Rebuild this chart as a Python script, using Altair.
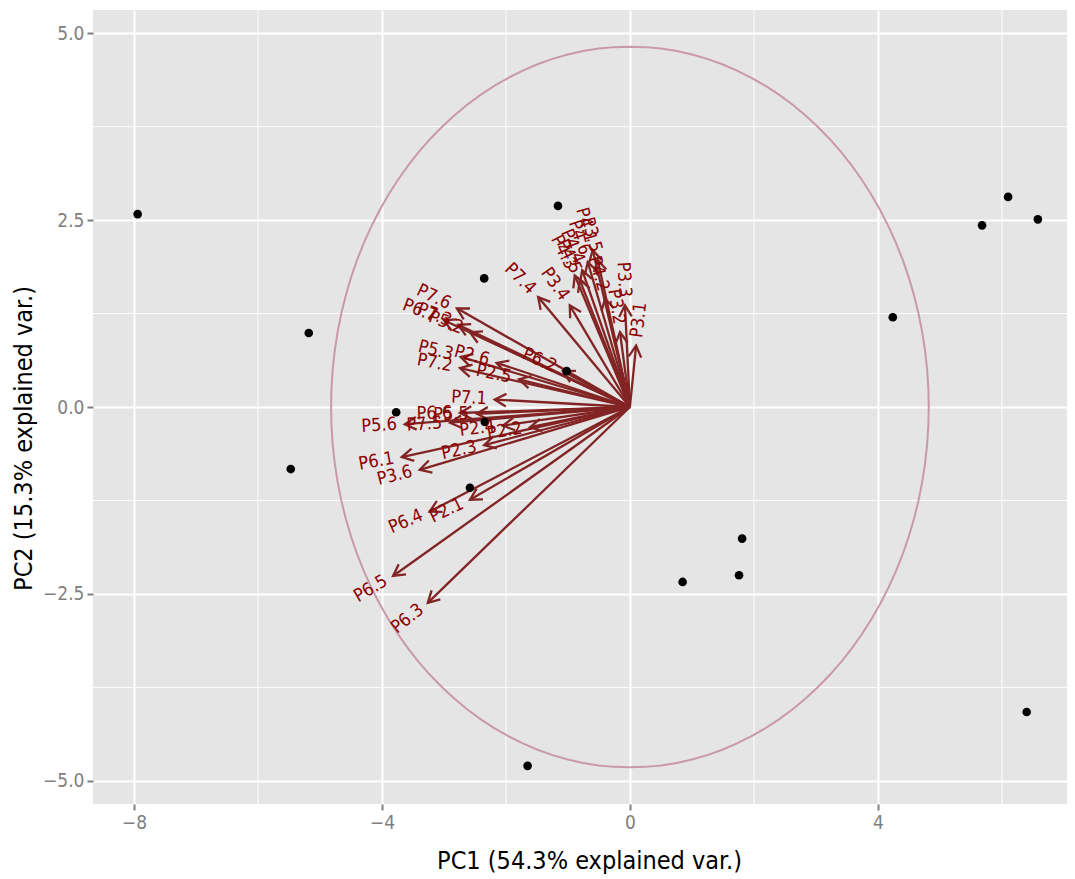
import altair as alt
import pandas as pd

# ---- data ----
pc1 = [-7.94, -5.18, -5.47, -3.77, -2.35, -2.34, -2.58, -1.16, -1.02, -1.65,
       0.85, 1.76, 1.81, 4.24, 5.68, 6.10, 6.58, 6.40]
pc2 = [2.58, 0.99, -0.83, -0.07, 1.72, -0.20, -1.08, 2.69, 0.48, -4.80,
       -2.34, -2.25, -1.76, 1.20, 2.43, 2.81, 2.51, -4.08]

var_names = ["P6.3", "P6.5", "P6.4", "P2.1", "P6.1", "P3.6", "P2.3", "P5.6", "P7.5",
             "P6.6", "P5.5", "P2.4", "P2.2", "P7.1", "P7.2", "P5.3", "P2.6", "P2.5",
             "P6.2", "P7.6", "P6.7", "P7.3", "P5.2", "P7.4", "P3.4", "P4.1", "P3.5",
             "P4.6", "P4.3", "P4.4", "P4.5", "P4.2", "P3.3", "P3.2", "P3.1"]
var_x = [-3.26, -3.82, -3.23, -2.58, -3.68, -3.39, -2.35, -3.63, -2.90,
         -2.74, -2.47, -2.05, -1.61, -2.18, -2.74, -2.73, -2.15, -1.79,
         -1.08, -2.79, -3.00, -2.77, -2.58, -1.48, -0.97, -0.60, -0.52,
         -0.68, -0.89, -0.77, -0.81, -0.40, -0.08, -0.16, 0.10]
var_y = [-2.62, -2.26, -1.40, -1.24, -0.67, -0.84, -0.51, -0.23, -0.21,
         -0.08, -0.09, -0.25, -0.27, 0.10, 0.52, 0.67, 0.59, 0.37,
         0.48, 1.32, 1.16, 1.10, 1.00, 1.47, 1.36, 2.10, 1.97,
         1.94, 1.76, 1.83, 1.70, 1.45, 1.36, 1.00, 0.82]

x_ticks = [-8, -4, 0, 4]
y_ticks = [-5.0, -2.5, 0.0, 2.5, 5.0]
x_minor = [-6, -2, 2, 6]
y_minor = [-3.75, -1.25, 1.25, 3.75]
circle_radius = 4.82
x_title = "PC1 (54.3% explained var.)"
y_title = "PC2 (15.3% explained var.)"

# ---- layout / style ----
W, H = 974, 794
XD = [-8.66, 7.05]
YD = [-5.31, 5.31]
kx = W / (XD[1] - XD[0])
ky = H / (YD[1] - YD[0])
FONT = "DejaVu Sans Condensed, Liberation Sans, Arial, sans-serif"
ARROW = "#832424"
LABEL = "#8B0000"
GREY = "#7f7f7f"

xs = alt.Scale(domain=XD, nice=False, zero=False)
ys = alt.Scale(domain=YD, nice=False, zero=False)

pts = pd.DataFrame({"pc1": pc1, "pc2": pc2})
vars_df = pd.DataFrame({"name": var_names, "vx": var_x, "vy": var_y})

x_axis = alt.Axis(values=x_ticks, format="d", grid=True, gridColor="white", gridWidth=2,
                  domain=False, ticks=True, tickColor=GREY, tickSize=6, tickWidth=2,
                  labelColor=GREY, labelFont=FONT, labelFontSize=19, labelPadding=3,
                  title=x_title, titleFont=FONT, titleFontSize=25, titleFontWeight="normal",
                  titleColor="black", titleX=496, titleY=56, titleBaseline="middle",
                  titleAlign="center")
y_axis = alt.Axis(values=y_ticks, format=".1f", grid=True, gridColor="white", gridWidth=2,
                  domain=False, ticks=True, tickColor=GREY, tickSize=6, tickWidth=2,
                  labelColor=GREY, labelFont=FONT, labelFontSize=19, labelPadding=3,
                  title=y_title, titleFont=FONT, titleFontSize=25, titleFontWeight="normal",
                  titleColor="black", titleX=-70, titleY=428, titleAngle=270,
                  titleBaseline="middle", titleAlign="center")


def X(f):
    return alt.X(f, scale=xs, axis=x_axis, title=x_title)


def Y(f):
    return alt.Y(f, scale=ys, axis=y_axis, title=y_title)


minor_x = alt.Chart(pd.DataFrame({"v": x_minor})).mark_rule(color="white", strokeWidth=1).encode(
    x=X("v:Q"))
minor_y = alt.Chart(pd.DataFrame({"v": y_minor})).mark_rule(color="white", strokeWidth=1).encode(
    y=Y("v:Q"))

circle = alt.Chart(alt.sequence(0, 121, as_="i")).transform_calculate(
    cx=f"{circle_radius}*cos(2*PI*datum.i/120)",
    cy=f"{circle_radius}*sin(2*PI*datum.i/120)",
).mark_line(color="#c99aa6", strokeWidth=2).encode(
    x=X("cx:Q"), y=Y("cy:Q"), order="i:Q",
)

vbase = alt.Chart(vars_df).transform_calculate(
    x0="0", y0="0",
    hang=f"(atan2(datum.vx*{kx}, datum.vy*{ky})*180/PI + 360) % 360",
    tang="(360 - atan(datum.vy/datum.vx)*180/PI) % 360",
)

segs = vbase.mark_rule(color=ARROW, strokeWidth=2.3).encode(
    x=X("x0:Q"), y=Y("y0:Q"), x2="vx:Q", y2="vy:Q")

heads = vbase.mark_point(shape="M-0.55,1L0,0L0.55,1", filled=False, size=520,
                         strokeWidth=2.3, color=ARROW, opacity=1).encode(
    x=X("vx:Q"), y=Y("vy:Q"), angle=alt.Angle("hang:Q", scale=None))

points = alt.Chart(pts).mark_circle(color="black", size=75, opacity=1).encode(
    x=X("pc1:Q"), y=Y("pc2:Q"))

labels_neg = vbase.transform_filter("datum.vx < 0").mark_text(
    align="right", baseline="middle", dx=-8, font=FONT, fontSize=18, color=LABEL).encode(
    x=X("vx:Q"), y=Y("vy:Q"), text="name:N", angle=alt.Angle("tang:Q", scale=None))
labels_pos = vbase.transform_filter("datum.vx >= 0").mark_text(
    align="left", baseline="middle", dx=8, font=FONT, fontSize=18, color=LABEL).encode(
    x=X("vx:Q"), y=Y("vy:Q"), text="name:N", angle=alt.Angle("tang:Q", scale=None))

chart = alt.layer(minor_x, minor_y, circle, segs, heads, points, labels_neg, labels_pos).properties(
    width=W, height=H,
    padding={"left": 85, "top": 2, "right": 0, "bottom": 70},
    autosize=alt.AutoSizeParams(type="none"),
).configure_view(fill="#E5E5E5", strokeWidth=0)

chart.save("out.html", embed_options={"renderer": "svg", "actions": False})
